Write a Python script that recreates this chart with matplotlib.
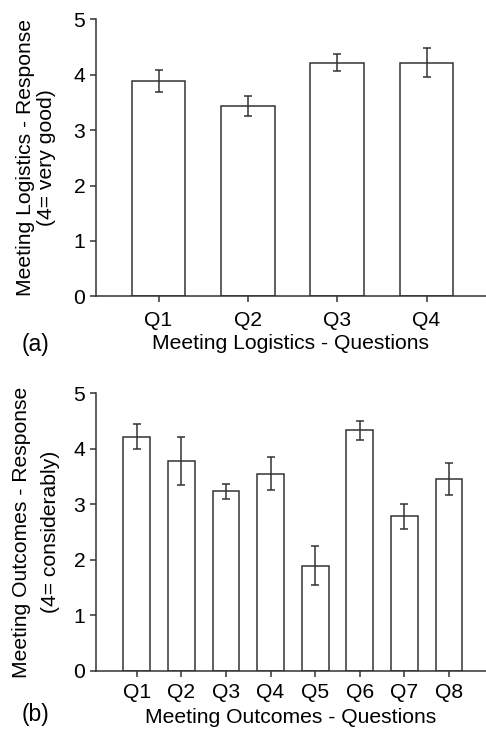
import matplotlib
matplotlib.use("Agg")
import matplotlib.pyplot as plt
import numpy as np

plt.rcParams['font.family'] = ['Liberation Sans', 'DejaVu Sans']

logistics_q = ["Q1", "Q2", "Q3", "Q4"]
logistics_mean = [3.89, 3.44, 4.22, 4.22]
logistics_err = [0.20, 0.18, 0.15, 0.27]

outcomes_q = ["Q1", "Q2", "Q3", "Q4", "Q5", "Q6", "Q7", "Q8"]
outcomes_mean = [4.22, 3.78, 3.23, 3.55, 1.89, 4.33, 2.78, 3.45]
outcomes_err = [0.22, 0.43, 0.14, 0.30, 0.35, 0.17, 0.22, 0.29]

yticks = [0, 1, 2, 3, 4, 5]

W, H = 486, 730
fig = plt.figure(figsize=(W / 100, H / 100), dpi=100)

lc = '#333333'
fs = 15.2


def panel(top_px, bot_px, cats, vals, errs, xlim, xlabel, ylab1, ylab2,
          ylab_x, tag, tag_y, tick_pad, label_pad):
    ax = fig.add_axes([95.7 / W, 1 - bot_px / H, 1 - 95.7 / W, (bot_px - top_px) / H])
    x = np.arange(len(cats))
    ax.bar(x, vals, width=0.6, color='white', edgecolor=lc, linewidth=1.1, zorder=2)
    ax.errorbar(x, vals, yerr=errs, fmt='none', ecolor=lc, elinewidth=1.1,
                capsize=2.9, capthick=1.1, zorder=3)
    ax.set_xlim(*xlim)
    ax.set_ylim(0, 5)
    ax.set_yticks(yticks)
    ax.set_xticks(x)
    ax.set_xticklabels(cats)
    for s in ['top', 'right']:
        ax.spines[s].set_visible(False)
    for s in ['left', 'bottom']:
        ax.spines[s].set_color(lc)
        ax.spines[s].set_linewidth(1.1)
    ax.tick_params(axis='both', colors=lc, labelcolor='black', labelsize=fs,
                   length=4, width=1.1)
    ax.tick_params(axis='x', pad=tick_pad)
    ax.tick_params(axis='y', pad=3.5)
    ax.set_xlabel(xlabel, fontsize=fs, labelpad=label_pad)
    yc = 1 - (top_px + bot_px) / 2 / H
    fig.text(ylab_x[0] / W, yc, ylab1, rotation=90, fontsize=fs,
             ha='center', va='center')
    fig.text(ylab_x[1] / W, yc, ylab2, rotation=90, fontsize=fs,
             ha='center', va='center')
    fig.text(22.0 / W, 1 - tag_y / H, tag, fontsize=16.5, va='center', ha='left')
    return ax


panel(19.3, 296.3, logistics_q, logistics_mean, logistics_err, (-0.703, 3.666),
      "Meeting Logistics - Questions",
      "Meeting Logistics - Response", "(4= very good)", (26, 47),
      "(a)", 344, 6.3, 3.3)

panel(393.3, 670.7, outcomes_q, outcomes_mean, outcomes_err, (-0.92, 7.83),
      "Meeting Outcomes - Questions",
      "Meeting Outcomes - Response", "(4= considerably)", (22, 50.5),
      "(b)", 715, 5.0, 4.3)

fig.savefig("out.png", dpi=100)
